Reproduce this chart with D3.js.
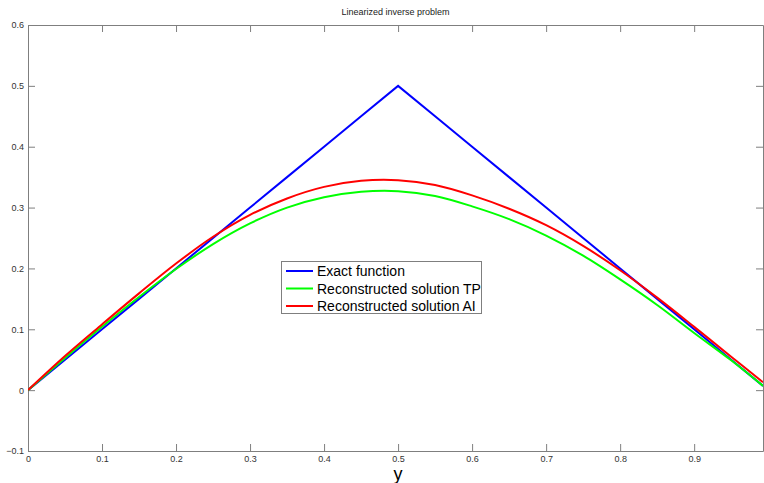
<!DOCTYPE html>
<html><head><meta charset="utf-8">
<script src="https://cdn.jsdelivr.net/npm/d3@7"></script>
<style>body{margin:0;background:#fff;} svg{display:block;font-family:Arial,"Liberation Sans",sans-serif;}</style>
</head><body>
<script>
const xs      = [0,0.05,0.1,0.15,0.2,0.25,0.3,0.35,0.4,0.45,0.5,0.55,0.6,0.65,0.7,0.75,0.8,0.85,0.9,0.95,0.993];
const exact   = [0,0.05,0.1,0.15,0.2,0.25,0.3,0.35,0.4,0.45,0.5,0.45,0.4,0.35,0.3,0.25,0.2,0.15,0.1,0.05,0.007];
const solTP   = [0,0.053,0.104,0.153,0.199,0.240,0.274,0.300,0.317,0.326,0.327,0.319,0.302,0.281,0.254,0.221,0.182,0.140,0.094,0.049,0.007];
const solAI   = [0,0.056,0.108,0.159,0.208,0.252,0.288,0.315,0.334,0.344,0.345,0.337,0.320,0.298,0.271,0.237,0.197,0.152,0.104,0.055,0.013];
const xTicks  = [0,0.1,0.2,0.3,0.4,0.5,0.6,0.7,0.8,0.9];
const yTicks  = [-0.1,0,0.1,0.2,0.3,0.4,0.5,0.6];
const seriesNames  = ["Exact function","Reconstructed solution TP","Reconstructed solution AI"];
const seriesColors = ["#0000ff","#00ff00","#ff0000"];
const title = "Linearized inverse problem";
const xLabel = "y";

const W=764,H=483, L=28, R=763, T=25, B=451;
const svg=d3.select("body").append("svg").attr("width",W).attr("height",H);
const x=d3.scaleLinear().domain([0,0.993]).range([L,R]);
const y=d3.scaleLinear().domain([-0.1,0.6]).range([B,T]);
const axCol="#7f7f7f", txtCol="#333";

function styleAxis(g, showText){
  g.select(".domain").attr("stroke",axCol);
  g.selectAll(".tick line").attr("stroke",axCol);
  g.selectAll(".tick text").attr("fill",txtCol).attr("font-size","9px").attr("font-family","Arial, 'Liberation Sans', sans-serif");
  if(!showText) g.selectAll(".tick text").remove();
}
const fmt=d=>d3.format("")(+d.toFixed(1));
svg.append("g").attr("transform",`translate(0,${B})`).call(d3.axisBottom(x).tickValues(xTicks).tickSizeInner(-7).tickSizeOuter(0).tickPadding(5).tickFormat(fmt)).call(g=>styleAxis(g,true));
svg.append("g").attr("transform",`translate(0,${T})`).call(d3.axisTop(x).tickValues(xTicks).tickSizeInner(-7).tickSizeOuter(0)).call(g=>styleAxis(g,false));
svg.append("g").attr("transform",`translate(${L},0)`).call(d3.axisLeft(y).tickValues(yTicks).tickSizeInner(-7).tickSizeOuter(0).tickPadding(4).tickFormat(fmt)).call(g=>styleAxis(g,true));
svg.append("g").attr("transform",`translate(${R},0)`).call(d3.axisRight(y).tickValues(yTicks).tickSizeInner(-7).tickSizeOuter(0)).call(g=>styleAxis(g,false));

const series=[exact,solTP,solAI];
const line=d3.line().x((d,i)=>x(xs[i])).y(d=>y(d));
const lineC=d3.line().x((d,i)=>x(xs[i])).y(d=>y(d)).curve(d3.curveCatmullRom);
svg.append("clipPath").attr("id","c").append("rect").attr("x",L).attr("y",T).attr("width",R-L).attr("height",B-T);
series.forEach((s,k)=>{
  svg.append("path").datum(s).attr("clip-path","url(#c)").attr("fill","none").attr("stroke",seriesColors[k]).attr("stroke-width",2)
    .attr("d",k===0?line:lineC);
});

svg.append("text").attr("x",(L+R)/2).attr("y",15).attr("text-anchor","middle").attr("font-size","9px").attr("fill","#222").text(title);
svg.append("text").attr("x",398).attr("y",480).attr("text-anchor","middle").attr("font-size","18px").attr("fill","#000").text(xLabel);

const lg=svg.append("g");
lg.append("rect").attr("x",281.5).attr("y",261.5).attr("width",200).attr("height",52).attr("fill","#fff").attr("stroke",axCol);
seriesNames.forEach((n,k)=>{
  const yy=271+k*17.5;
  lg.append("line").attr("x1",286).attr("x2",313).attr("y1",yy).attr("y2",yy).attr("stroke",seriesColors[k]).attr("stroke-width",2);
  lg.append("text").attr("x",317).attr("y",yy+5).attr("font-size","14px").attr("fill","#000").text(n);
});
</script>
</body></html>
